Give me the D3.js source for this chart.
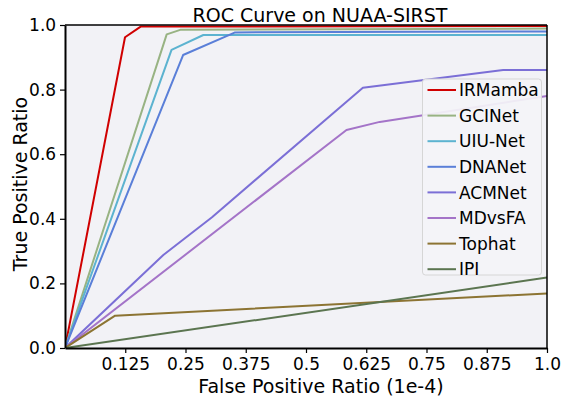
<!DOCTYPE html>
<html><head><meta charset="utf-8">
<script src="https://cdn.jsdelivr.net/npm/d3@7"></script>
<style>body{margin:0;background:#fff}svg{display:block;font-family:"DejaVu Sans",sans-serif}</style>
</head><body><svg id="c" width="562" height="401"></svg>
<script>
const seriesNames = ["IRMamba","GCINet","UIU-Net","DNANet","ACMNet","MDvsFA","Tophat","IPI"];
const seriesColors = ["#d00000","#98b383","#5cb3d0","#5a7fd8","#7b6fd6","#a474c8","#8c7433","#5b7550"];
const IRMamba = [[0,0],[0.1245,0.962],[0.157,0.995],[1,0.997]];
const GCINet  = [[0,0],[0.211,0.971],[0.239,0.985],[1,0.989]];
const UIUNet  = [[0,0],[0.221,0.923],[0.287,0.969],[1,0.969]];
const DNANet  = [[0,0],[0.245,0.907],[0.353,0.977],[1,0.98]];
const ACMNet  = [[0,0],[0.204,0.288],[0.305,0.405],[0.618,0.806],[0.909,0.861],[1,0.861]];
const MDvsFA  = [[0,0],[0.584,0.675],[0.653,0.70],[1,0.78]];
const Tophat  = [[0,0],[0.104,0.10],[1,0.169]];
const IPI     = [[0,0],[1,0.218]];
const seriesData = [IRMamba,GCINet,UIUNet,DNANet,ACMNet,MDvsFA,Tophat,IPI];
const xTicks = [0.125,0.25,0.375,0.5,0.625,0.75,0.875,1.0];
const xTickLabels = ["0.125","0.25","0.375","0.5","0.625","0.75","0.875","1.0"];
const yTicks = [0,0.2,0.4,0.6,0.8,1.0];
const yTickLabels = ["0.0","0.2","0.4","0.6","0.8","1.0"];

const svg = d3.select("#c");
const L=65,R=547,T=25,B=348;
const x = d3.scaleLinear().domain([0,1]).range([L,R]);
const y = d3.scaleLinear().domain([0,1]).range([B,T]);

svg.append("rect").attr("x",L).attr("y",T).attr("width",R-L).attr("height",B-T).attr("fill","#f2f2f6");

const line = d3.line().x(d=>x(d[0])).y(d=>y(d[1]));
svg.append("clipPath").attr("id","clip").append("rect").attr("x",L).attr("y",T-2).attr("width",R-L).attr("height",B-T+2);
const g = svg.append("g").attr("clip-path","url(#clip)");
seriesData.forEach((d,i)=>{
  g.append("path").attr("d",line(d)).attr("fill","none").attr("stroke",seriesColors[i]).attr("stroke-width",2).attr("stroke-linejoin","round");
});

// frame
svg.append("line").attr("x1",L).attr("x2",R).attr("y1",T).attr("y2",T).attr("stroke","#000").attr("stroke-width",1.5);
svg.append("line").attr("x1",R).attr("x2",R).attr("y1",T).attr("y2",B).attr("stroke","#000").attr("stroke-width",1.5);

const xAxis = svg.append("g").attr("transform",`translate(0,${B})`)
  .call(d3.axisBottom(x).tickValues(xTicks).tickFormat((d,i)=>xTickLabels[i]).tickSize(5).tickSizeOuter(0));
const yAxis = svg.append("g").attr("transform",`translate(${L},0)`)
  .call(d3.axisLeft(y).tickValues(yTicks).tickFormat((d,i)=>yTickLabels[i]).tickSize(5).tickSizeOuter(0));
[xAxis,yAxis].forEach(a=>{
  a.selectAll("text").attr("font-size",17).attr("font-family","DejaVu Sans").attr("fill","#000");
  a.selectAll("line").attr("stroke","#000").attr("stroke-width",1.2);
  a.select(".domain").attr("stroke","#000").attr("stroke-width",2);
});
xAxis.selectAll("text").attr("dy","0.82em");
yAxis.selectAll("text").attr("dx","-0.05em");

svg.append("text").attr("x",320).attr("y",22).attr("text-anchor","middle").attr("font-size",19).text("ROC Curve on NUAA-SIRST");
svg.append("text").attr("x",321).attr("y",392.5).attr("text-anchor","middle").attr("font-size",19).text("False Positive Ratio (1e-4)");
svg.append("text").attr("transform","translate(27,184) rotate(-90)").attr("text-anchor","middle").attr("font-size",19).text("True Positive Ratio");

// legend
const lg = svg.append("g");
lg.append("rect").attr("x",422.5).attr("y",79).attr("width",119).attr("height",196).attr("rx",3)
  .attr("fill","#f4f4f7").attr("fill-opacity",0.92).attr("stroke","#d6d6d6").attr("stroke-width",1);
seriesNames.forEach((n,i)=>{
  const yy = 90 + i*25.6;
  lg.append("line").attr("x1",427.5).attr("x2",456).attr("y1",yy).attr("y2",yy).attr("stroke",seriesColors[i]).attr("stroke-width",2);
  lg.append("text").attr("x",459).attr("y",yy).attr("dy","0.36em").attr("font-size",17).text(n);
});
</script></body></html>
